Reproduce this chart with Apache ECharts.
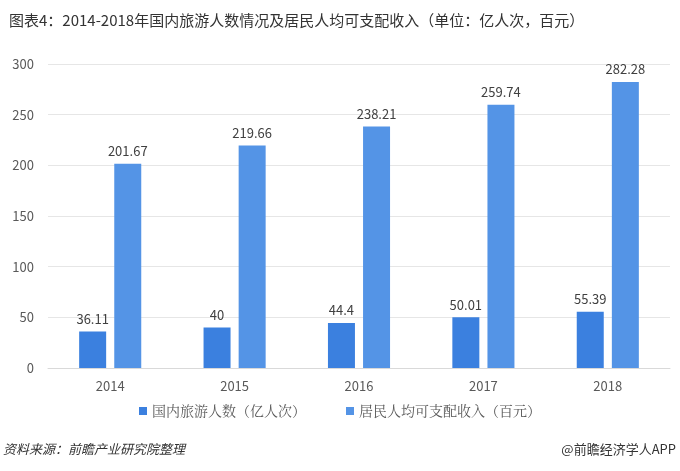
<!DOCTYPE html>
<html>
<head>
<meta charset="utf-8">
<script src="https://cdn.jsdelivr.net/npm/echarts@6/dist/echarts.min.js"></script>
<style>
  html, body { margin: 0; padding: 0; background: #fff; }
  #chart { width: 680px; height: 471px; }
</style>
</head>
<body>
<div id="chart"></div>
<script>
// 年份
const years = ["2014", "2015", "2016", "2017", "2018"];
// 国内旅游人数（亿人次）
const tourists = [36.11, 40, 44.4, 50.01, 55.39];
// 居民人均可支配收入（百元）
const income = [201.67, 219.66, 238.21, 259.74, 282.28];

const chart = echarts.init(document.getElementById("chart"));
const font = "'Microsoft YaHei', 'Noto Sans CJK SC', sans-serif";

chart.setOption({
  animation: false,
  textStyle: { fontFamily: font },
  title: {
    text: "图表4：2014-2018年国内旅游人数情况及居民人均可支配收入（单位：亿人次，百元）",
    left: 4,
    top: 8,
    textStyle: { fontSize: 15, fontWeight: "normal", color: "#333", fontFamily: font }
  },
  legend: {
    bottom: 48,
    left: "center",
    itemWidth: 8,
    itemHeight: 8,
    itemGap: 40,
    icon: "rect",
    textStyle: { fontSize: 14, color: "#595959", fontFamily: "'Noto Serif CJK SC', 'Noto Sans CJK SC', serif" },
    data: ["国内旅游人数（亿人次）", "居民人均可支配收入（百元）"]
  },
  grid: { left: 48, right: 10, top: 64, bottom: 103 },
  xAxis: {
    type: "category",
    data: years,
    axisTick: { show: false },
    axisLine: { lineStyle: { color: "#d9d9d9" } },
    axisLabel: { color: "#595959", fontSize: 13, margin: 12 }
  },
  yAxis: {
    type: "value",
    min: 0,
    max: 300,
    interval: 50,
    axisLine: { show: false },
    axisTick: { show: false },
    splitLine: { lineStyle: { color: "#e6e6e6" } },
    axisLabel: { color: "#595959", fontSize: 13, margin: 14 }
  },
  graphic: [
    {
      type: "text",
      left: 3,
      top: 443,
      style: { text: "资料来源：前瞻产业研究院整理", font: "italic 13px " + font, fill: "#333" }
    },
    {
      type: "text",
      right: 4,
      top: 443,
      style: { text: "@前瞻经济学人APP", font: "13px " + font, fill: "#333" }
    }
  ],
  series: [
    {
      name: "国内旅游人数（亿人次）",
      type: "bar",
      data: tourists,
      barWidth: 27,
      barGap: "30%",
      itemStyle: { color: "#3b80df" },
      label: { show: true, position: "top", color: "#404040", fontSize: 13, distance: 6 }
    },
    {
      name: "居民人均可支配收入（百元）",
      type: "bar",
      data: income,
      barWidth: 27,
      itemStyle: { color: "#5494e6" },
      label: { show: true, position: "top", color: "#404040", fontSize: 13, distance: 6 }
    }
  ]
});
</script>
</body>
</html>
